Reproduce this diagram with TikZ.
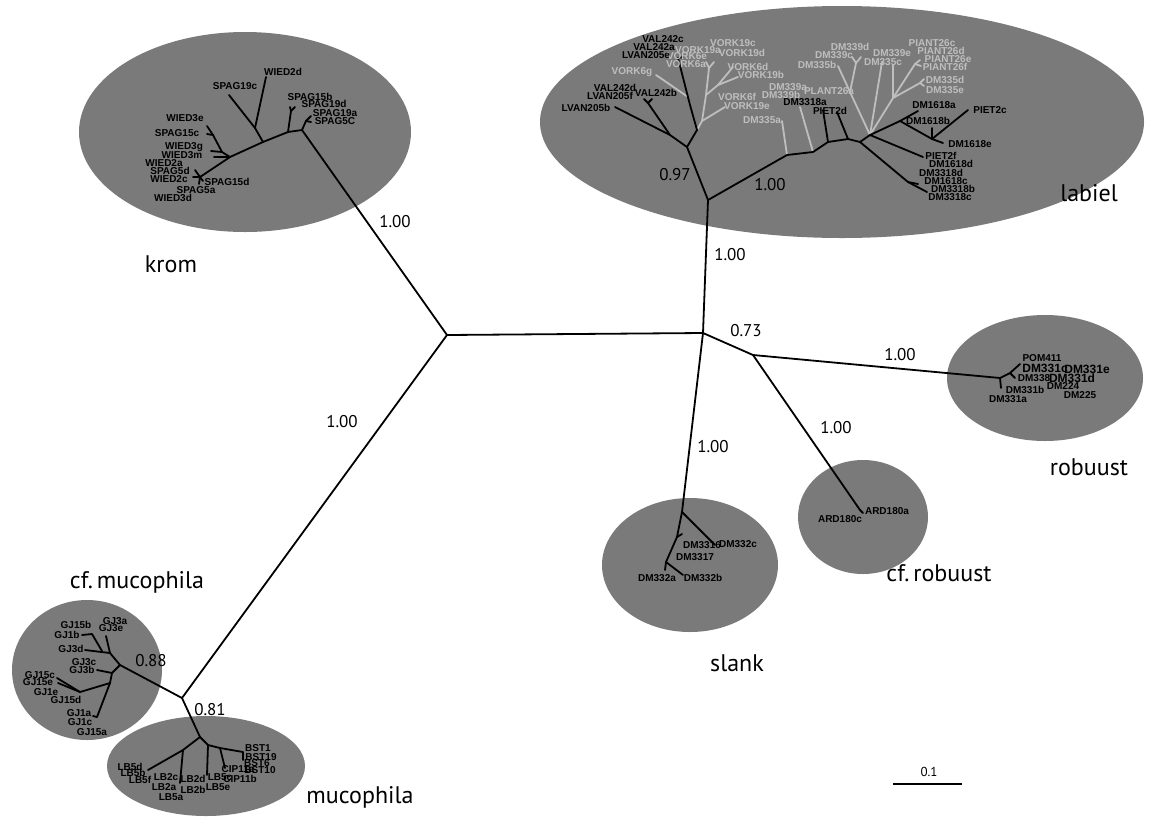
\documentclass[tikz,border=0pt]{standalone}
\usepackage{fontspec}
\setmainfont{PT Sans}
\newfontfamily\taxfont{Liberation Sans}
\definecolor{cladegray}{RGB}{122,122,122}
\definecolor{palegray}{RGB}{190,190,190}
\begin{document}
\begin{tikzpicture}[x=1pt,y=-1pt,
  br/.style={line width=1.8pt,line cap=round,line join=round},
  brl/.style={br,draw=palegray},
  clade/.style={fill=cladegray},
  tax/.style={font=\taxfont\bfseries\fontsize{10}{10}\selectfont,inner sep=0pt},
  taxbig/.style={tax,font=\taxfont\bfseries\fontsize{12}{12}\selectfont},
  taxl/.style={tax,text=palegray},
  grp/.style={font=\fontsize{24}{24}\selectfont,inner sep=0pt},
  sup/.style={font=\fontsize{17}{17}\selectfont,inner sep=0pt}]

\useasboundingbox (0,0) rectangle (1153,820);

\fill [clade] (245,132) ellipse [x radius=166,y radius=100];
\fill [clade] (842,122) ellipse [x radius=302,y radius=116];
\fill [clade] (1045,378) ellipse [x radius=98,y radius=63];
\fill [clade] (863,517) ellipse [x radius=65,y radius=57];
\fill [clade] (690,565) ellipse [x radius=88,y radius=67];
\fill [clade] (87,670) ellipse [x radius=75,y radius=70];
\fill [clade] (206,766) ellipse [x radius=99,y radius=50];

\coordinate (a0) at (447,335);
\coordinate (a1) at (703,333);
\coordinate (a2) at (753,355);
\coordinate (k0) at (302,130);
\coordinate (l0) at (708,200);
\coordinate (r0) at (1000,378);
\coordinate (c0) at (860,510);
\coordinate (s0) at (682,512);
\coordinate (m0) at (182,698);

\draw [br] (a0) edge (k0);
\draw [br] (a0) edge (a1);
\draw [br] (a0) edge (m0);
\draw [br] (a1) edge (l0);
\draw [br] (a1) edge (a2);
\draw [br] (a1) edge (s0);
\draw [br] (a2) edge (r0);
\draw [br] (a2) edge (c0);

\coordinate (k1) at (306,121);
\coordinate (k1a) at (311,116);
\coordinate (k1b) at (311,122);
\coordinate (k2) at (288,132);
\coordinate (k3) at (291,111);
\coordinate (k3a) at (295,107);
\coordinate (k3b) at (290,107);
\coordinate (k4) at (263,142);
\coordinate (k5) at (255,128);
\coordinate (k5a) at (229,95);
\coordinate (k5b) at (266,77);
\coordinate (k6) at (230,157);
\coordinate (k7) at (222,152);
\coordinate (k8) at (213,135);
\coordinate (k8a) at (207,126);
\coordinate (k8b) at (207,134);
\coordinate (k7a) at (211,151);
\coordinate (k6a) at (214,157);
\coordinate (k9) at (200,177);
\coordinate (k9a) at (195,170);
\coordinate (k9b) at (193,177);
\coordinate (k9c) at (199,184);
\coordinate (k9d) at (203,181);

\draw [br] (k0) -- (k1) -- (k1a);
\draw [br] (k1) -- (k1b);
\draw [br] (k0) -- (k2) -- (k3) -- (k3a);
\draw [br] (k3) -- (k3b);
\draw [br] (k2) -- (k4) -- (k5) -- (k5a);
\draw [br] (k5) -- (k5b);
\draw [br] (k4) -- (k6) -- (k7) -- (k8) -- (k8a);
\draw [br] (k8) -- (k8b);
\draw [br] (k7) -- (k7a);
\draw [br] (k6) -- (k6a);
\draw [br] (k6) -- (k9) -- (k9a);
\draw [br] (k9) -- (k9b);
\draw [br] (k9) -- (k9c);
\draw [br] (k9) -- (k9d);

\node [tax] (kt1) at (283,72) {WIED2d};
\node [tax] (kt2) at (235,86) {SPAG19c};
\node [tax] (kt3) at (310,97) {SPAG15b};
\node [tax] (kt4) at (324,104) {SPAG19d};
\node [tax] (kt5) at (335,113) {SPAG19a};
\node [tax] (kt6) at (335,121) {SPAG5C};
\node [tax] (kt7) at (185,118) {WIED3e};
\node [tax] (kt8) at (177,133) {SPAG15c};
\node [tax] (kt9) at (184,147) {WIED3g};
\node [tax] (kt10) at (182,155) {WIED3m};
\node [tax] (kt11) at (164,163) {WIED2a};
\node [tax] (kt12) at (170,171) {SPAG5d};
\node [tax] (kt13) at (169,179) {WIED2c};
\node [tax] (kt14) at (227,182) {SPAG15d};
\node [tax] (kt15) at (196,190) {SPAG5a};
\node [tax] (kt16) at (173,198) {WIED3d};

\coordinate (l1) at (687,147);
\coordinate (l11) at (670,135);
\coordinate (l11a) at (615,107);
\coordinate (l12) at (648,103);
\coordinate (l12a) at (644,99);
\coordinate (l12b) at (652,99);
\coordinate (l13) at (697,130);
\coordinate (l14) at (690,105);
\coordinate (l15) at (688,97);
\coordinate (l14a) at (678,58);
\coordinate (l14b) at (683,57);
\coordinate (l2) at (787,155);
\coordinate (l2a) at (782,121);
\coordinate (l3) at (813,152);
\coordinate (l3a) at (800,107);
\coordinate (l4) at (828,142);
\coordinate (l4a) at (823,110);
\coordinate (l5) at (848,139);
\coordinate (l5a) at (837,112);
\coordinate (l6) at (860,142);
\coordinate (l7) at (870,135);
\coordinate (l7a) at (923,157);
\coordinate (l8) at (900,121);
\coordinate (l8a) at (918,111);
\coordinate (l9) at (932,139);
\coordinate (l9a) at (932,128);
\coordinate (l9b) at (968,110);
\coordinate (l9c) at (943,143);
\coordinate (l10) at (908,182);
\coordinate (l10a) at (918,184);
\coordinate (l10b) at (927,192);

\coordinate (g1) at (850,92);
\coordinate (g1a) at (838,66);
\coordinate (g2) at (856,63);
\coordinate (g2a) at (852,57);
\coordinate (g2b) at (861,57);
\coordinate (g3) at (882,62);
\coordinate (g5) at (893,98);
\coordinate (g5a) at (893,65);
\coordinate (g6) at (915,64);
\coordinate (g6a) at (920,60);
\coordinate (g6b) at (921,66);
\coordinate (g7) at (920,83);
\coordinate (g7a) at (924,79);
\coordinate (g7b) at (924,86);
\coordinate (g8) at (702,121);
\coordinate (g8a) at (725,107);
\coordinate (g9) at (706,95);
\coordinate (g10) at (709,68);
\coordinate (g10a) at (706,62);
\coordinate (g10b) at (714,62);
\coordinate (g11) at (718,85);
\coordinate (g11a) at (733,67);
\coordinate (g11b) at (738,77);
\coordinate (g12) at (656,75);

\draw [brl] (l2) -- (l2a);
\draw [brl] (l3) -- (l3a);
\draw [brl] (l7) -- (g1) -- (g1a);
\draw [brl] (g1) -- (g2) -- (g2a);
\draw [brl] (g2) -- (g2b);
\draw [brl] (l7) -- (g3);
\draw [brl] (l7) -- (g5) -- (g5a);
\draw [brl] (g5) -- (g6) -- (g6a);
\draw [brl] (g6) -- (g6b);
\draw [brl] (g5) -- (g7) -- (g7a);
\draw [brl] (g7) -- (g7b);
\draw [brl] (l13) -- (g8) -- (g8a);
\draw [brl] (g8) -- (g9) -- (g10) -- (g10a);
\draw [brl] (g10) -- (g10b);
\draw [brl] (g9) -- (g11) -- (g11a);
\draw [brl] (g11) -- (g11b);
\draw [brl] (l15) -- (g12);

\draw [br] (l0) -- (l1) -- (l11) -- (l11a);
\draw [br] (l11) -- (l12) -- (l12a);
\draw [br] (l12) -- (l12b);
\draw [br] (l1) -- (l13) -- (l14) -- (l14a) -- (l14b);
\draw [br] (l0) -- (l2) -- (l3) -- (l4) -- (l5) -- (l6) -- (l7) -- (l8) -- (l8a);
\draw [br] (l4) -- (l4a);
\draw [br] (l5) -- (l5a);
\draw [br] (l8) -- (l9) -- (l9a);
\draw [br] (l9) -- (l9b);
\draw [br] (l9) -- (l9c);
\draw [br] (l7) -- (l7a);
\draw [br] (l6) -- (l10) -- (l10b);
\draw [br] (l10) -- (l10a);

\node [taxl] (lg1) at (733,43) {VORK19c};
\node [taxl] (lg2) at (698,50) {VORK19a};
\node [taxl] (lg3) at (687,56) {VORK6e};
\node [taxl] (lg4) at (686,64) {VORK6a};
\node [taxl] (lg5) at (742,53) {VORK19d};
\node [taxl] (lg6) at (632,72) {VORK6g};
\node [taxl] (lg7) at (748,67) {VORK6d};
\node [taxl] (lg8) at (761,75) {VORK19b};
\node [taxl] (lg9) at (737,97) {VORK6f};
\node [taxl] (lg10) at (747,106) {VORK19e};
\node [taxl] (lg11) at (762,120) {DM335a};
\node [taxl] (lg12) at (788,87) {DM339a};
\node [taxl] (lg13) at (781,95) {DM339b};
\node [taxl] (lg14) at (829,91) {PLANT26a};
\node [taxl] (lg15) at (817,65) {DM335b};
\node [taxl] (lg16) at (834,55) {DM339c};
\node [taxl] (lg17) at (850,47) {DM339d};
\node [taxl] (lg18) at (892,53) {DM339e};
\node [taxl] (lg19) at (883,62) {DM335c};
\node [taxl] (lg20) at (932,43) {PIANT26c};
\node [taxl] (lg21) at (941,51) {PIANT26d};
\node [taxl] (lg22) at (948,59) {PIANT26e};
\node [taxl] (lg23) at (945,67) {PIANT26f};
\node [taxl] (lg24) at (945,80) {DM335d};
\node [taxl] (lg25) at (945,90) {DM335e};

\node [tax] (lt1) at (663,39) {VAL242c};
\node [tax] (lt2) at (654,47) {VAL242a};
\node [tax] (lt3) at (646,55) {LVAN205e};
\node [tax] (lt4) at (615,88) {VAL242d};
\node [tax] (lt5) at (656,93) {VAL242b};
\node [tax] (lt6) at (610,96) {LVAN205f};
\node [tax] (lt7) at (586,108) {LVAN205b};
\node [tax] (lt8) at (805,102) {DM3318a};
\node [tax] (lt9) at (830,111) {PIET2d};
\node [tax] (lt10) at (934,105) {DM1618a};
\node [tax] (lt11) at (928,121) {DM1618b};
\node [tax] (lt12) at (990,110) {PIET2c};
\node [tax] (lt13) at (970,144) {DM1618e};
\node [tax] (lt14) at (941,156) {PIET2f};
\node [tax] (lt15) at (951,164) {DM1618d};
\node [tax] (lt16) at (941,173) {DM3318d};
\node [tax] (lt17) at (946,181) {DM1618c};
\node [tax] (lt18) at (953,189) {DM3318b};
\node [tax] (lt19) at (950,197) {DM3318c};

\coordinate (r1) at (1010,373);
\coordinate (r1a) at (1020,364);
\coordinate (r1b) at (1015,378);
\coordinate (r0a) at (1001,388);
\draw [br] (r0) -- (r1) -- (r1a);
\draw [br] (r1) -- (r1b);
\draw [br] (r0) -- (r0a);

\node [tax] (rt1) at (1042,358) {POM411};
\node [taxbig] (rt2) at (1045,368) {DM331c};
\node [taxbig] (rt3) at (1087,369) {DM331e};
\node [tax] (rt4) at (1034,378) {DM338};
\node [taxbig] (rt5) at (1072,378) {DM331d};
\node [tax] (rt6) at (1063,386) {DM224};
\node [tax] (rt7) at (1025,390) {DM331b};
\node [tax] (rt8) at (1080,395) {DM225};
\node [tax] (rt9) at (1008,399) {DM331a};

\coordinate (c0a) at (863,513);
\draw [br] (c0) -- (c0a);
\node [tax] (ct1) at (887,511) {ARD180a};
\node [tax] (ct2) at (840,519) {ARD180c};

\coordinate (s0a) at (715,545);
\coordinate (s1) at (677,537);
\coordinate (s1a) at (682,534);
\coordinate (s2) at (666,562);
\coordinate (s2a) at (665,570);
\coordinate (s2b) at (683,575);
\draw [br] (s0) -- (s0a);
\draw [br] (s0) -- (s1) -- (s1a);
\draw [br] (s1) -- (s2) -- (s2a);
\draw [br] (s2) -- (s2b);

\node [tax] (st1) at (702,545) {DM3316};
\node [tax] (st2) at (738,544) {DM332c};
\node [tax] (st3) at (695,557) {DM3317};
\node [tax] (st4) at (657,578) {DM332a};
\node [tax] (st5) at (703,578) {DM332b};

\coordinate (m1) at (120,665);
\coordinate (m2) at (110,653);
\coordinate (m2a) at (85,650);
\coordinate (m2b) at (106,636);
\coordinate (m3) at (102,651);
\coordinate (m3a) at (92,634);
\coordinate (m3b) at (82,635);
\coordinate (m4) at (112,673);
\coordinate (m4a) at (97,670);
\coordinate (m5) at (110,683);
\coordinate (m5a) at (97,717);
\coordinate (m5b) at (93,716);
\coordinate (m6) at (80,692);
\coordinate (m6a) at (57,678);
\coordinate (m6b) at (58,683);
\draw [br] (m0) -- (m1) -- (m2) -- (m2a);
\draw [br] (m2) -- (m2b);
\draw [br] (m3) -- (m3a) -- (m3b);
\draw [br] (m1) -- (m4) -- (m4a);
\draw [br] (m4) -- (m5) -- (m5a) -- (m5b);
\draw [br] (m5) -- (m6) -- (m6a);
\draw [br] (m6) -- (m6b);

\node [tax] (mt1) at (76,625) {GJ15b};
\node [tax] (mt2) at (115,621) {GJ3a};
\node [tax] (mt3) at (111,628) {GJ3e};
\node [tax] (mt4) at (67,635) {GJ1b};
\node [tax] (mt5) at (71,649) {GJ3d};
\node [tax] (mt6) at (84,662) {GJ3c};
\node [tax] (mt7) at (82,670) {GJ3b};
\node [tax] (mt8) at (40,675) {GJ15c};
\node [tax] (mt9) at (38,682) {GJ15e};
\node [tax] (mt10) at (46,692) {GJ1e};
\node [tax] (mt11) at (66,700) {GJ15d};
\node [tax] (mt12) at (79,713) {GJ1a};
\node [tax] (mt13) at (80,722) {GJ1c};
\node [tax] (mt14) at (92,732) {GJ15a};

\coordinate (u0) at (200,737);
\coordinate (u1) at (183,750);
\coordinate (u1a) at (148,770);
\coordinate (u1b) at (180,783);
\coordinate (u2) at (208,745);
\coordinate (u2a) at (207,775);
\coordinate (u3) at (220,748);
\coordinate (u3a) at (225,768);
\coordinate (u4) at (243,752);
\coordinate (u4a) at (243,760);
\draw [br] (m0) -- (u0);
\draw [br] (u0) -- (u1) -- (u1a);
\draw [br] (u1) -- (u1b);
\draw [br] (u0) -- (u2) -- (u2a);
\draw [br] (u2) -- (u3) -- (u3a);
\draw [br] (u3) -- (u4) -- (u4a);

\node [tax] (ut1) at (130,767) {LB5d};
\node [tax] (ut2) at (133,773) {LB5b};
\node [tax] (ut3) at (140,780) {LB5f};
\node [tax] (ut4) at (166,777) {LB2c};
\node [tax] (ut5) at (164,787) {LB2a};
\node [tax] (ut6) at (171,797) {LB5a};
\node [tax] (ut7) at (193,779) {LB2d};
\node [tax] (ut8) at (193,790) {LB2b};
\node [tax] (ut9) at (220,777) {LB5c};
\node [tax] (ut10) at (218,787) {LB5e};
\node [tax] (ut11) at (238,769) {CIP11a};
\node [tax] (ut12) at (240,779) {CIP11b};
\node [tax] (ut13) at (258,748) {BST1};
\node [tax] (ut14) at (261,757) {BST19};
\node [tax] (ut15) at (257,763) {BST6};
\node [tax] (ut16) at (260,770) {BST10};

\node [grp] (n1) at (171,264) {krom};
\node [grp] (n2) at (1089,193) {labiel};
\node [grp] (n3) at (1089,467) {robuust};
\node [grp] (n4) at (939,573) {cf.\,robuust};
\node [grp] (n5) at (737,663) {slank};
\node [grp] (n6) at (137,582) {cf.\,mucophila};
\node [grp] (n7) at (360,797) {mucophila};

\node [sup] (b1) at (395,222) {1.00};
\node [sup] (b2) at (730,255) {1.00};
\node [sup] (b3) at (746,331) {0.73};
\node [sup] (b4) at (900,355) {1.00};
\node [sup] (b5) at (836,428) {1.00};
\node [sup] (b6) at (713,447) {1.00};
\node [sup] (b7) at (342,422) {1.00};
\node [sup] (b8) at (675,175) {0.97};
\node [sup] (b9) at (770,185) {1.00};
\node [sup] (b10) at (151,661) {0.88};
\node [sup] (b11) at (210,710) {0.81};

\node [sup,font=\fontsize{13}{13}\selectfont] (sc) at (929,772) {0.1};
\coordinate (sc1) at (893,784);
\coordinate (sc2) at (962,784);
\draw [line width=1.2pt] (sc1) -- (sc2);

\end{tikzpicture}
\end{document}
